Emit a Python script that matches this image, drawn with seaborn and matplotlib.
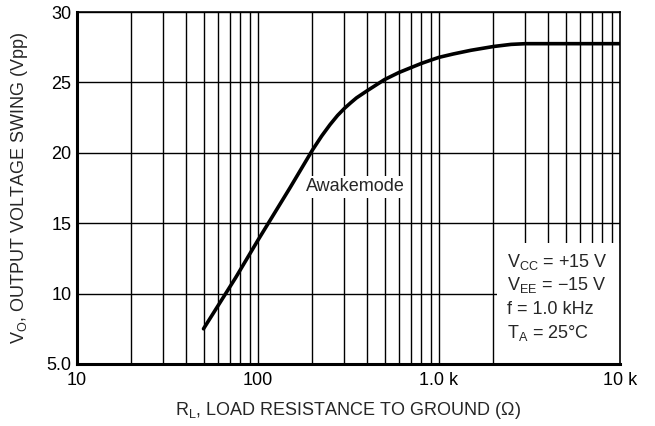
import numpy as np
import pandas as pd
import matplotlib
matplotlib.use('Agg')
import matplotlib.pyplot as plt
import seaborn as sns
from matplotlib.ticker import FixedLocator, NullFormatter
from matplotlib.patches import Rectangle

# load resistance (ohm) vs output swing (Vpp)
r_load = [50, 75, 100, 150, 200, 225, 250, 275, 300, 325, 350, 400, 500, 600,
          700, 800, 900, 1000, 1200, 1500, 2000, 2500, 3000, 5000, 10000]
v_swing = [7.5, 11.1, 13.8, 17.5, 20.2, 21.2, 22.0, 22.65, 23.15, 23.55, 23.9,
           24.4, 25.2, 25.7, 26.05, 26.35, 26.58, 26.78, 27.02, 27.28, 27.55,
           27.7, 27.75, 27.75, 27.75]

x_ticks = [10, 100, 1000, 10000]
x_labels = ['10', '100', '1.0 k', '10 k']
y_ticks = [5, 10, 15, 20, 25, 30]
y_labels = ['5.0', '10', '15', '20', '25', '30']

cond_lines = ['V$\\mathregular{_{CC}}$ = +15 V',
              'V$\\mathregular{_{EE}}$ = \u221215 V',
              'f = 1.0 kHz',
              'T$\\mathregular{_A}$ = 25\u00b0C']

sns.set_style('white')
plt.rcParams['font.family'] = ['Liberation Sans', 'DejaVu Sans']
plt.rcParams['mathtext.fontset'] = 'custom'
plt.rcParams['mathtext.rm'] = 'Liberation Sans'

df = pd.DataFrame({'R': r_load, 'V': v_swing})

fig = plt.figure(figsize=(6.55, 4.26), dpi=100)
ax = fig.add_axes([77/655, 62/426, 543/655, 352/426])

sns.lineplot(data=df, x='R', y='V', ax=ax, color='black', linewidth=2.6, zorder=5)

ax.set_xscale('log')
ax.set_xlim(10, 10000)
ax.set_ylim(5, 30)

minors = [m * d for d in [10, 100, 1000] for m in range(2, 10)]
ax.xaxis.set_major_locator(FixedLocator(x_ticks))
ax.xaxis.set_minor_locator(FixedLocator(minors))
ax.xaxis.set_minor_formatter(NullFormatter())
ax.set_xticks(x_ticks)
ax.set_xticklabels(x_labels)
ax.set_yticks(y_ticks)
ax.set_yticklabels(y_labels)
ax.tick_params(axis='both', which='both', length=0, labelsize=13, colors='black')
ax.tick_params(axis='x', pad=6)
ax.tick_params(axis='y', pad=4)

ax.grid(True, which='major', color='black', linewidth=1.0)
ax.grid(True, which='minor', axis='x', color='black', linewidth=1.0)
ax.set_axisbelow(True)

for side in ['top', 'right']:
    ax.spines[side].set_linewidth(1.2)
for side in ['left', 'bottom']:
    ax.spines[side].set_linewidth(2.2)
for sp in ax.spines.values():
    sp.set_color('black')
    sp.set_zorder(6)

ax.set_xlabel(r'R$\mathregular{_L}$, LOAD RESISTANCE TO GROUND ($\Omega$)', fontsize=13, labelpad=8)
ax.set_ylabel(r'V$\mathregular{_O}$, OUTPUT VOLTAGE SWING (Vpp)', fontsize=13, labelpad=12)

ax.text(0.512, 0.503, 'Awakemode', transform=ax.transAxes, fontsize=13,
        ha='center', va='center', zorder=4,
        bbox=dict(facecolor='white', edgecolor='none', pad=2))

# white panel behind the test conditions
ax.add_patch(Rectangle((0.773, 0.0), 0.227, 0.344, transform=ax.transAxes,
                       facecolor='white', edgecolor='none', zorder=3))
for txt, yb in zip(cond_lines, [0.276, 0.210, 0.142, 0.074]):
    ax.text(0.792, yb, txt, transform=ax.transAxes, fontsize=13,
            ha='left', va='baseline', zorder=4)

fig.savefig('out.png', dpi=100)
